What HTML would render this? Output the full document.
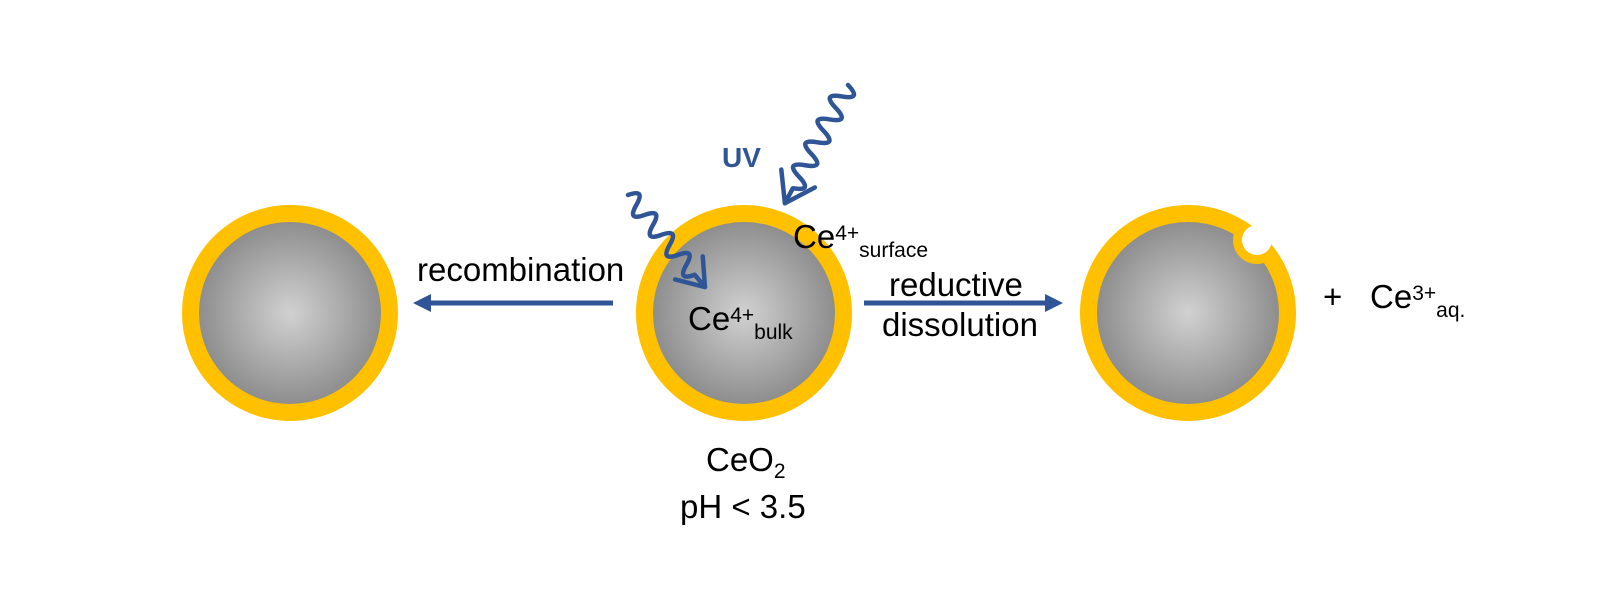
<!DOCTYPE html>
<html><head><meta charset="utf-8"><style>
html,body{margin:0;padding:0;background:#fff}
svg{display:block}
text{font-family:"Liberation Sans",Arial,sans-serif;fill:#000}
</style></head><body>
<svg width="1600" height="600" viewBox="0 0 1600 600" xmlns="http://www.w3.org/2000/svg">
<defs>
<radialGradient id="g" cx="50%" cy="50%" r="50%">
<stop offset="0" stop-color="#d2d1d2"/>
<stop offset="1" stop-color="#8e8e8e"/>
</radialGradient>
<clipPath id="rc"><circle cx="1188" cy="313" r="108"/></clipPath>
</defs>
<circle cx="290" cy="313" r="108" fill="#FFC000"/>
<circle cx="290" cy="313" r="91" fill="url(#g)"/>
<circle cx="744" cy="313" r="108" fill="#FFC000"/>
<circle cx="744" cy="313" r="91" fill="url(#g)"/>
<circle cx="1188" cy="313" r="108" fill="#FFC000"/>
<circle cx="1188" cy="313" r="91" fill="url(#g)"/>
<g clip-path="url(#rc)"><circle cx="1257" cy="240" r="24" fill="#FFC000"/></g>
<circle cx="1257" cy="240" r="15" fill="#fff"/>
<line x1="613" y1="303" x2="428" y2="303" stroke="#2F5597" stroke-width="5"/>
<polygon points="413,303 431,294 431,312" fill="#2F5597"/>
<line x1="864" y1="303" x2="1048" y2="303" stroke="#2F5597" stroke-width="5"/>
<polygon points="1063,303 1045,294 1045,312" fill="#2F5597"/>
<text x="417" y="281" font-size="33">recombination</text>
<text x="889" y="296" font-size="33">reductive</text>
<text x="882" y="336" font-size="33">dissolution</text>
<text x="688" y="330" font-size="33">Ce<tspan font-size="21" dy="-8">4+</tspan><tspan font-size="21" dy="17">bulk</tspan></text>
<text x="793" y="248" font-size="33">Ce<tspan font-size="21" dy="-8">4+</tspan><tspan font-size="21" dy="17">surface</tspan></text>
<text x="706" y="471" font-size="33">CeO<tspan font-size="21" dy="7">2</tspan></text>
<text x="680" y="518" font-size="33">pH &lt; 3.5</text>
<text x="1323" y="308" font-size="33">+</text>
<text x="1370" y="308" font-size="33">Ce<tspan font-size="21" dy="-8">3+</tspan><tspan font-size="21" dy="17">aq.</tspan></text>
<text x="722" y="167" font-size="28" font-weight="bold" style="fill:#2F5597">UV</text>
<g fill="none" stroke="#2F5597" stroke-width="4.5" stroke-linecap="round" stroke-linejoin="round">
<g transform="translate(848,85) rotate(118.1)">
<path d="M0,0 q6.5,-20 13,0 q6.5,20 13,0 q6.5,-20 13,0 q6.5,20 13,0 q6.5,-20 13,0 q6.5,20 13,0 q6.5,-20 13,0 q6.5,20 13,0 q6.5,-20 13,0 L134,0"/>
<path d="M106,-19 L134,0 L106,19"/>
</g>
<g transform="translate(628,195) rotate(50.1)">
<path d="M0,0 q6.5,-18 13,0 q6.5,18 13,0 q6.5,-18 13,0 q6.5,18 13,0 q6.5,-18 13,0 q6.5,18 13,0 q6.5,-18 13,0 q6.5,18 13,0 L120,0"/>
<path d="M95,-18 L120,0 L95,18"/>
</g>
</g>
</svg>
</body></html>
